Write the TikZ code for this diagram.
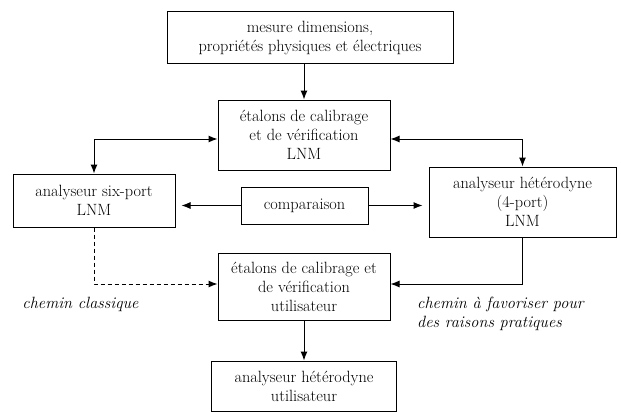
\documentclass[tikz,border=0pt]{standalone}
\usepackage{fontspec}
\usepackage{tikz}
\usetikzlibrary{arrows.meta}

\begin{document}
\begin{tikzpicture}[x=1pt,y=-1pt,
		font=\rmfamily\fontsize{16.3}{19}\selectfont,
		>={Latex[length=9pt,width=7pt]},
		box/.style={draw, line width=1pt, align=center, inner sep=2pt},
		hv/.style={to path={-| (\tikztotarget)}},
		vh/.style={to path={|- (\tikztotarget)}},
		note/.style={font=\rmfamily\itshape\fontsize{16.3}{19}\selectfont, inner sep=0pt}]
		\useasboundingbox (0,0) rectangle (621,412);
		\node[box, minimum width=286pt, minimum height=52pt] (mes) at (310,38)
			{mesure dimensions,\\ propriétés physiques et électriques};
		\node[box, minimum width=172pt, minimum height=70pt] (etl) at (304,135)
			{étalons de calibrage\\ et de vérification\\ LNM};
		\node[box, minimum width=162pt, minimum height=53pt] (six) at (94,200.5)
			{analyseur six-port\\ LNM};
		\node[box, minimum width=127pt, minimum height=37pt] (cmp) at (304.5,205.5)
			{comparaison};
		\node[box, minimum width=187pt, minimum height=70pt] (het) at (522.5,202)
			{analyseur hétérodyne\\ (4-port)\\ LNM};
		\node[box, minimum width=172pt, minimum height=67pt] (etu) at (304,286.5)
			{étalons de calibrage et\\ de vérification\\ utilisateur};
		\node[box, minimum width=185pt, minimum height=50pt] (heu) at (304,386)
			{analyseur hétérodyne\\ utilisateur};
		\node[note] (cla) at (80.5,304) {chemin classique};
		\node[note, anchor=west, align=left] (fav) at (417,313.5)
			{chemin à favoriser pour\\ des raisons pratiques};
		\path[->, line width=1pt]
		(etl.north |- mes.south) edge (etl.north)
		([yshift=-4pt]etl.west) edge[<->, hv] (six.north)
		([yshift=-4pt]etl.east) edge[<->, hv] (het.north)
		(cmp.west) edge[shorten >=6pt] (six.east |- cmp.west)
		(cmp.east) edge[shorten >=6pt] (het.west |- cmp.east)
		(six.south) edge[vh, dash pattern=on 4pt off 3pt] ([yshift=2.5pt]etu.west)
		(het.south) edge[vh] ([yshift=2.5pt]etu.east)
		(etu.south) edge (heu.north);
	\end{tikzpicture}
\end{document}
